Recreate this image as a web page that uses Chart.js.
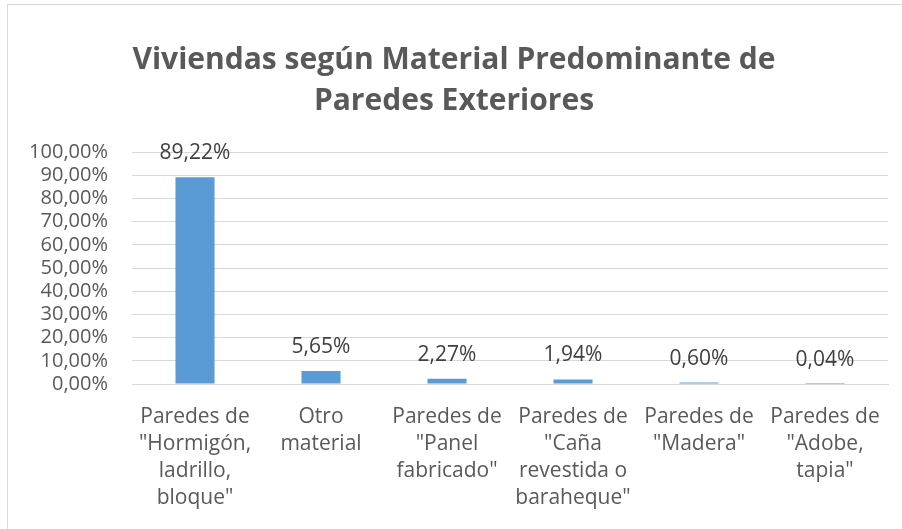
<!DOCTYPE html>
<html>
<head>
<meta charset="utf-8">
<script src="https://cdn.jsdelivr.net/npm/chart.js@4.4.0/dist/chart.umd.min.js"></script>
<style>
html,body{margin:0;padding:0;background:#fff;}
#wrap{width:902px;height:529px;position:relative;}
</style>
</head>
<body>
<div id="wrap"><canvas id="c" width="902" height="529"></canvas></div>
<script>
const titleLines = ["Viviendas según Material Predominante de", "Paredes Exteriores"];
const categories = [
  ["Paredes de", "\"Hormigón,", "ladrillo,", "bloque\""],
  ["Otro", "material"],
  ["Paredes de", "\"Panel", "fabricado\""],
  ["Paredes de", "\"Caña", "revestida o", "baraheque\""],
  ["Paredes de", "\"Madera\""],
  ["Paredes de", "\"Adobe,", "tapia\""]
];
const values = [89.22, 5.65, 2.27, 1.94, 0.60, 0.04];
const yMin = 0, yMax = 100, yStep = 10;

const FONT = "'Open Sans', sans-serif";
const fmt = v => v.toFixed(2).replace('.', ',') + '%';

const frame = {
  id: 'frame',
  beforeDraw(chart) {
    const ctx = chart.ctx;
    ctx.save();
    ctx.fillStyle = '#fff';
    ctx.fillRect(0, 0, chart.width, chart.height);
    ctx.strokeStyle = '#d9d9d9';
    ctx.lineWidth = 1;
    ctx.strokeRect(7.5, 4.5, 1000, 1000);
    ctx.restore();
  }
};

const labelsPlugin = {
  id: 'valueLabels',
  afterDatasetsDraw(chart) {
    const ctx = chart.ctx;
    const meta = chart.getDatasetMeta(0);
    ctx.save();
    ctx.font = "21px " + FONT;
    ctx.fillStyle = '#404040';
    ctx.textAlign = 'center';
    ctx.textBaseline = 'middle';
    meta.data.forEach((bar, i) => {
      ctx.fillText(fmt(values[i]), bar.x, bar.y - 24);
    });
    ctx.restore();
  }
};

new Chart(document.getElementById('c'), {
  type: 'bar',
  data: {
    labels: categories,
    datasets: [{
      data: values,
      backgroundColor: '#5b9bd5',
      borderWidth: 0,
      categoryPercentage: 1,
      barPercentage: 0.31
    }]
  },
  options: {
    responsive: false,
    animation: false,
    devicePixelRatio: 1,
    layout: { padding: { left: 20, right: 14, top: 0, bottom: 18 } },
    plugins: {
      legend: { display: false },
      tooltip: { enabled: false },
      title: {
        display: true,
        text: titleLines,
        color: '#595959',
        font: { family: FONT, size: 30, weight: 'bold', lineHeight: 1.37 },
        padding: { top: 40, bottom: 30 }
      }
    },
    scales: {
      x: {
        afterFit(scale) { scale.height = 127; },
        grid: { display: false, drawTicks: false },
        border: { color: '#d9d9d9', width: 1 },
        ticks: {
          color: '#595959',
          font: { family: FONT, size: 21, lineHeight: 1.28 },
          padding: 20,
          maxRotation: 0,
          autoSkip: false
        }
      },
      y: {
        min: yMin, max: yMax,
        afterFit(scale) { scale.width = 112; },
        grid: { color: '#d9d9d9', drawTicks: false },
        border: { display: false },
        ticks: {
          stepSize: yStep,
          autoSkip: false,
          color: '#595959',
          font: { family: FONT, size: 20 },
          padding: 24,
          callback: v => fmt(v)
        }
      }
    }
  },
  plugins: [frame, labelsPlugin]
});
</script>
</body>
</html>
